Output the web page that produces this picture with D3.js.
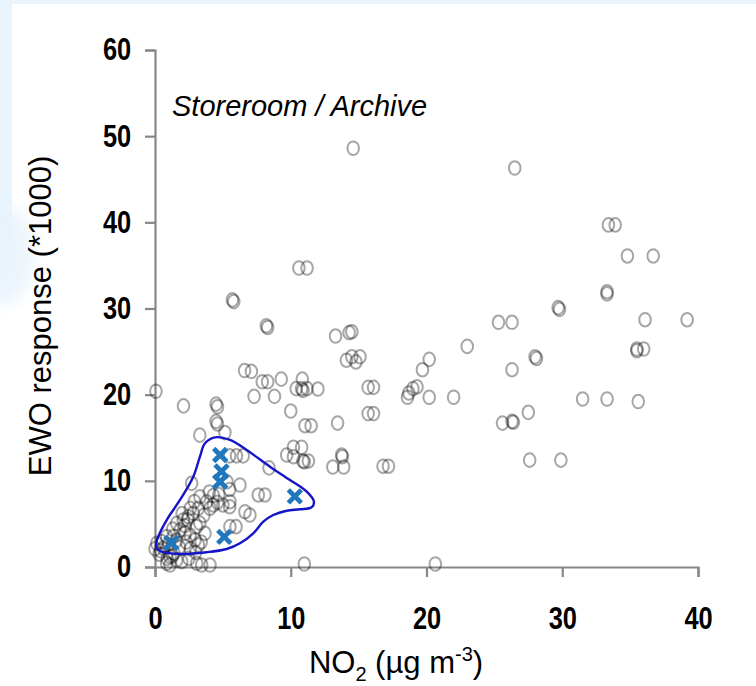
<!DOCTYPE html>
<html>
<head>
<meta charset="utf-8">
<script src="https://cdn.jsdelivr.net/npm/d3@7"></script>
<style>
body{margin:0;background:#fff;}
svg{display:block;font-family:"Liberation Sans",Arial,sans-serif;}
</style>
</head>
<body>
<svg id="chart" width="756" height="686"></svg>
<script>
// gray circles: NO2 (ug m-3) and EWO response (*1000)
var no2 = [14.6,26.5,33.4,33.9,34.8,36.7,33.3,33.3,29.7,29.8,25.3,26.3,36.1,39.2,23.0,35.5,35.5,36.0,28.0,28.1,
14.3,14.5,13.3,14.1,14.5,14.8,15.1,20.2,19.7,26.3,15.7,16.1,18.6,18.7,19.0,19.3,20.2,22.0,31.5,33.3,35.6,
15.7,16.1,25.6,26.3,26.4,27.5,27.6,29.9,20.65,11.0,10.6,11.2,5.7,5.8,8.2,8.3,6.6,7.1,7.9,8.3,9.3,
10.85,10.4,10.8,10.9,11.2,12.0,7.3,8.8,10.0,11.05,11.5,13.45,0.07,2.1,4.5,4.6,4.5,4.6,5.15,3.3,
9.7,10.2,10.8,10.2,10.9,11.3,11.0,13.75,13.8,13.1,13.9,16.8,17.2,8.4,5.5,6.0,6.5,
2.70,3.31,3.81,4.30,4.05,5.52,6.26,7.61,8.10,6.63,6.99,3.19,2.82,2.45,2.08,1.60,3.07,3.68,5.52,5.97,
1.84,2.21,2.58,2.95,3.19,1.60,1.35,0.86,0.49,0.13,0.0,1.10,1.60,1.97,0.86,1.10,3.07,3.44,4.05,
5.3,5.5,4.3,5.5,2.4,2.2,0.4,1.3,
0.3,0.6,1.0,1.4,1.8,2.3,2.6,3.0,3.4,2.0,2.6,3.6,4.6,3.3,1.3,0.9,2.9,4.0,2.5,4.7,5.0];
var ewo = [48.6,46.3,39.7,39.7,36.1,36.1,31.95,31.7,30.1,29.9,28.4,28.4,28.7,28.7,25.6,25.3,25.1,25.3,24.4,24.2,
27.2,27.3,26.8,24.0,24.4,23.8,24.4,24.1,22.9,22.9,20.85,20.85,19.7,20.2,20.7,20.9,19.7,19.7,19.5,19.5,19.2,
17.8,17.8,16.7,16.9,16.8,17.95,12.4,12.4,0.35,0.35,34.7,34.7,31.0,30.8,28.0,27.8,22.8,22.7,21.5,21.5,21.8,
21.8,20.7,20.7,20.5,20.7,20.65,19.8,19.8,18.1,16.4,16.4,16.7,20.4,18.7,18.9,18.6,16.9,16.6,15.6,15.3,
13.0,13.9,13.9,12.8,12.3,12.3,12.2,13.0,12.8,11.6,11.6,11.7,11.7,11.5,12.9,12.9,12.9,
9.71,8.16,7.58,7.20,6.81,7.58,9.52,8.36,8.36,6.42,6.03,6.81,6.23,5.84,5.45,5.07,4.68,3.91,4.68,4.68,
4.29,3.91,3.71,3.13,2.55,3.13,3.52,3.52,2.94,2.75,2.1,1.20,0.81,0.62,0.43,0.23,0.43,0.23,0.23,
9.9,9.0,8.3,7.0,5.5,4.8,1.9,1.3,
1.5,2.2,2.6,1.6,2.3,2.9,2.1,1.7,2.9,6.2,6.8,6.0,7.5,5.1,4.4,1.0,7.6,8.7,1.0,8.4,7.2];
// blue crosses
var no2X = [4.8,4.9,4.8,5.1,10.3,1.2];
var ewoX = [13.0,11.1,9.9,3.5,8.2,2.8];
// blue outline around the crosses
var hullX = [4.42,5.52,6.75,8.47,9.94,11.18,11.71,11.54,10.68,9.70,8.71,7.98,7.24,6.26,5.28,3.81,1.84,0.49,0.07,0.24,0.86,1.84,2.82,3.31,3.68];
var hullY = [15.05,14.74,13.58,11.64,10.10,8.74,7.58,6.93,6.70,6.53,6.03,5.26,3.91,2.75,2.09,1.71,1.51,1.78,2.36,3.52,5.45,7.78,10.48,12.80,14.36];
var xTicks = [0,10,20,30,40];
var yTicks = [0,10,20,30,40,50,60];

var svg = d3.select("#chart");
var defs = svg.append("defs");
var fade = defs.append("linearGradient").attr("id","fade").attr("x1",0).attr("y1",0).attr("x2",0).attr("y2",1);
fade.append("stop").attr("offset","0").attr("stop-color","#e9f4fd");
fade.append("stop").attr("offset","0.8").attr("stop-color","#e9f4fd");
fade.append("stop").attr("offset","1").attr("stop-color","#e9f4fd").attr("stop-opacity",0);
defs.append("filter").attr("id","blur").append("feGaussianBlur").attr("stdDeviation",8);

// pale frame at the top and left
svg.append("rect").attr("x",0).attr("y",0).attr("width",756).attr("height",4).attr("fill","#e9f4fd");
svg.append("rect").attr("x",0).attr("y",0).attr("width",12).attr("height",250).attr("fill","url(#fade)");
svg.append("ellipse").attr("cx",4).attr("cy",255).attr("rx",30).attr("ry",50).attr("fill","#e3f0fb").attr("opacity",0.7).attr("filter","url(#blur)");

var x = d3.scaleLinear().domain([0,40]).range([155,698]);
var y = d3.scaleLinear().domain([0,60]).range([567,50]);
var squeeze = 0.82;

var gx = svg.append("g").attr("transform","translate(0,"+y(0)+")")
  .call(d3.axisBottom(x).tickValues(xTicks).tickSize(10).tickPadding(30).tickFormat(d3.format("d")));
var gy = svg.append("g").attr("transform","translate("+x(0)+",0)")
  .call(d3.axisLeft(y).tickValues(yTicks).tickSize(10).tickPadding(19).tickFormat(d3.format("d")));
svg.selectAll(".domain, .tick line").attr("stroke","#878787").attr("stroke-width",2.2);
svg.selectAll(".tick text").attr("fill","#000").attr("font-size","31px").attr("font-weight","bold")
  .attr("font-family","'Liberation Sans',Arial,sans-serif").attr("transform","scale("+squeeze+",1)");

// circles (slightly tall, as in the picture)
svg.append("g").selectAll("ellipse").data(no2).enter().append("ellipse")
  .attr("cx",(d,i)=>x(d)).attr("cy",(d,i)=>y(ewo[i])).attr("rx",5.8).attr("ry",6.8)
  .attr("fill","none").attr("stroke","#000").attr("stroke-opacity",0.35).attr("stroke-width",2);

// outline
var hullPts = hullX.map((d,i)=>[x(d),y(hullY[i])]);
svg.append("path").attr("d",d3.line().curve(d3.curveCatmullRomClosed.alpha(0.5))(hullPts))
  .attr("fill","none").attr("stroke","#1414c8").attr("stroke-width",2.4);

// crosses
svg.append("g").selectAll("path").data(no2X).enter().append("path")
  .attr("transform",(d,i)=>"translate("+x(d)+","+y(ewoX[i])+")")
  .attr("d","M-6.5,-6.5L6.5,6.5M-6.5,6.5L6.5,-6.5")
  .attr("stroke","#1f77bd").attr("stroke-width",4.8).attr("fill","none");

svg.append("text").attr("x",172).attr("y",116).attr("font-size","29px").attr("font-style","italic")
  .attr("fill","#000").text("Storeroom / Archive");

var xt = svg.append("text").attr("x",396).attr("y",673).attr("text-anchor","middle").attr("font-size","31px").attr("fill","#000");
xt.append("tspan").text("NO");
xt.append("tspan").attr("font-size","20px").attr("dy",8).text("2");
xt.append("tspan").attr("dy",-8).text(" (µg m");
xt.append("tspan").attr("font-size","20px").attr("dy",-12).text("-3");
xt.append("tspan").attr("dy",12).text(")");

svg.append("text").attr("transform","translate(51,316) rotate(-90)").attr("text-anchor","middle")
  .attr("font-size","31px").attr("fill","#000").text("EWO response (*1000)");
</script>
</body>
</html>
